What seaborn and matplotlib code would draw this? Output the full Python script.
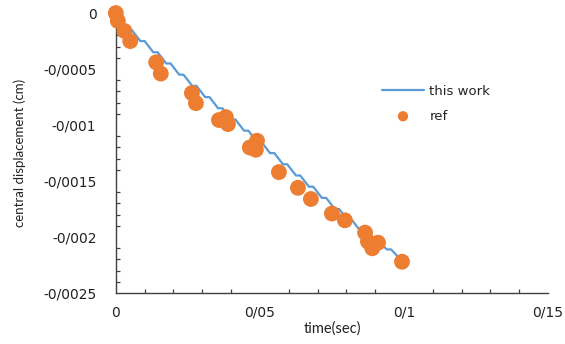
import matplotlib
matplotlib.use("Agg")
import matplotlib.pyplot as plt
import seaborn as sns
import pandas as pd
from matplotlib.ticker import MultipleLocator, FixedLocator

# ---- data ----
line_t = [0.0000, 0.0012, 0.0040, 0.0055, 0.0085, 0.0100, 0.0130, 0.0145, 0.0175, 0.0190,
          0.0220, 0.0235, 0.0265, 0.0280, 0.0310, 0.0325, 0.0355, 0.0370, 0.0400, 0.0415,
          0.0445, 0.0460, 0.0490, 0.0505, 0.0535, 0.0550, 0.0580, 0.0595, 0.0625, 0.0640,
          0.0670, 0.0685, 0.0715, 0.0730, 0.0760, 0.0775, 0.0805, 0.0820, 0.0850, 0.0865,
          0.0895, 0.0910, 0.0940, 0.0955, 0.0985, 0.0995]
line_d = [0.0000, -0.00005, -0.00015, -0.00015, -0.00025, -0.00025, -0.00035, -0.00035, -0.00045, -0.00045,
          -0.00055, -0.00055, -0.00065, -0.00065, -0.00075, -0.00075, -0.00085, -0.00085, -0.00095, -0.00095,
          -0.00105, -0.00105, -0.00115, -0.00115, -0.00125, -0.00125, -0.00135, -0.00135, -0.00145, -0.00145,
          -0.00155, -0.00155, -0.00165, -0.00165, -0.00175, -0.00175, -0.00185, -0.00185, -0.00195, -0.00195,
          -0.00203, -0.00203, -0.00211, -0.00211, -0.00219, -0.00222]

ref_t = [0.0000, 0.0007, 0.0030, 0.0050, 0.0140, 0.0156, 0.0264, 0.0278, 0.0358, 0.0382,
         0.0389, 0.0465, 0.0490, 0.0486, 0.0566, 0.0632, 0.0677, 0.0750, 0.0795, 0.0865,
         0.0875, 0.0910, 0.0890, 0.0993]
ref_d = [0.0000, -0.00007, -0.00016, -0.00025, -0.00044, -0.00054, -0.000714, -0.000804, -0.000955, -0.000929,
         -0.000991, -0.00120, -0.00114, -0.00122, -0.00142, -0.00156, -0.00166, -0.00179, -0.00185, -0.00196,
         -0.00204, -0.00205, -0.00210, -0.00222]

x_ticks = [0, 0.05, 0.1, 0.15]
x_labels = ["0", "0/05", "0/1", "0/15"]
y_ticks = [0, -0.0005, -0.001, -0.0015, -0.002, -0.0025]
y_labels = ["0", "-0/0005", "-0/001", "-0/0015", "-0/002", "-0/0025"]

sns.set_theme(style="white")
plt.rcParams['font.family'] = ['DejaVu Sans']

fig = plt.figure(figsize=(5.65, 3.44), dpi=100)
ax = fig.add_axes([0.205, 0.148, 0.765, 0.814])

df_line = pd.DataFrame({"t": line_t, "d": line_d})
df_ref = pd.DataFrame({"t": ref_t, "d": ref_d})

sns.lineplot(data=df_line, x="t", y="d", ax=ax, color="#5B9BD5", linewidth=1.6,
             sort=False, label="this work", zorder=2)
sns.scatterplot(data=df_ref, x="t", y="d", ax=ax, color="#ED7D31", s=130,
                edgecolor="none", label="ref", zorder=3, clip_on=False)

ax.set_xlim(0, 0.15)
ax.set_ylim(-0.0025, 0)
ax.xaxis.set_major_locator(FixedLocator(x_ticks))
ax.set_xticklabels(x_labels)
ax.yaxis.set_major_locator(FixedLocator(y_ticks))
ax.set_yticklabels(y_labels)
ax.xaxis.set_minor_locator(MultipleLocator(0.01))
ax.yaxis.set_minor_locator(MultipleLocator(0.0001))

for s in ["top", "right"]:
    ax.spines[s].set_visible(False)
for s in ["left", "bottom"]:
    ax.spines[s].set_color("#404040")
    ax.spines[s].set_linewidth(1.0)

ax.tick_params(axis="both", which="major", direction="in", length=4, width=0.9,
               color="#404040", labelsize=10, labelcolor="#222222")
ax.tick_params(axis="both", which="minor", direction="in", length=3, width=0.9,
               color="#404040", left=True, bottom=True)
ax.tick_params(axis="x", which="major", pad=9)
ax.tick_params(axis="y", which="major", pad=14)

ax.set_xlabel("time(sec)", fontsize=10.5, color="#222222", labelpad=1,
              family=["Lato", "DejaVu Sans"])
ax.set_ylabel("central displacement (cm)", fontsize=9.5, color="#222222", labelpad=12,
              family=["Lato", "DejaVu Sans"])

leg = ax.legend(loc="upper left", bbox_to_anchor=(370 / 565, 1 - 73 / 344),
                bbox_transform=fig.transFigure, frameon=False, fontsize=9.5,
                handlelength=3.2, markerscale=0.65, labelspacing=0.9, handletextpad=0.4)
for t in leg.get_texts():
    t.set_color("#222222")

fig.savefig("out.png", dpi=100, facecolor="white")
